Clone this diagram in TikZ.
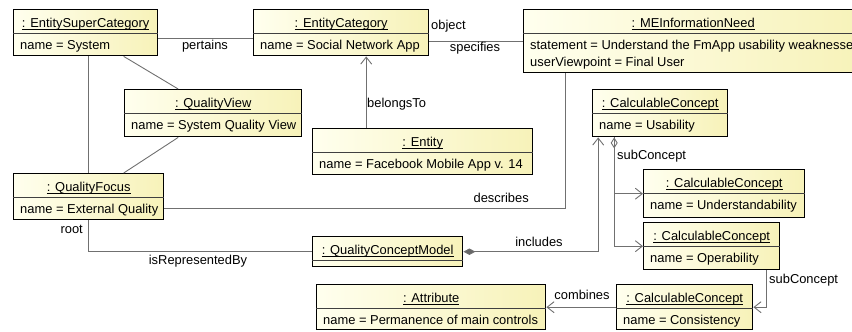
\documentclass[tikz,border=0pt]{standalone}
\usepackage{fontspec}
\setmainfont{Liberation Sans}
\usepackage{xcolor}
\usepackage{tikz}
\usetikzlibrary{arrows.meta}
\definecolor{objleft}{RGB}{255,255,238}
\definecolor{objright}{RGB}{247,242,185}
\definecolor{linkgray}{RGB}{112,112,112}
\tikzstyle{link} = [draw=linkgray, line width=0.9bp]
\tikzstyle{nav}  = [link, -{Straight Barb[length=7bp,width=11bp]}]
\newcommand{\fsz}{\fontsize{12.95}{17}\selectfont}
\newcommand{\objname}[1]{\setbox0=\hbox{#1}\rlap{\rule[-2.1bp]{\wd0}{0.75bp}}\box0}
\newcommand{\objbox}[6]{%
  \node[obj, minimum width=#3bp, minimum height=#4bp, anchor=north west] (#1) at (#2) {};
  \node[objtitle] (#1-title) at ([yshift=-9bp]#1.north) {\objname{#5}};
  \draw[objsep] ([yshift=-24bp]#1.north west) -- ([yshift=-24bp]#1.north east);
  \node[objattr] (#1-attr) at ([yshift=-30.8bp]#1.north west) {#6};
}

\begin{document}
\begin{tikzpicture}[x=1bp, y=-1bp,
    obj/.style={draw=black, line width=1.4bp, left color=objleft, right color=objright, inner sep=0pt},
    objtitle/.style={font=\fsz, inner sep=0pt, anchor=north},
    objattr/.style={font=\fsz, align=left, inner xsep=7bp, inner ysep=0pt, anchor=north west},
    objsep/.style={draw=black!75, line width=0.8bp},
    lbl/.style={font=\fsz, inner sep=0pt},
  ]
  \useasboundingbox (0,0) rectangle (852,331);
  \clip (0,0) rectangle (852,331);

  \objbox{esc}{13,9}{144}{46}{: EntitySuperCategory}{name = System}
  \objbox{ecat}{253,9}{175}{46}{: EntityCategory}{name = Social Network App}
  \objbox{need}{523,9}{339}{63}{: MEInformationNeed}{statement = Understand the FmApp usability weaknesses\\userViewpoint = Final User}
  \objbox{qview}{124,89}{177}{47}{: QualityView}{name = System Quality View}
  \objbox{entity}{312,128}{220}{46}{: Entity}{name = Facebook Mobile App v. 14}
  \objbox{qfocus}{13,173}{150}{46}{: QualityFocus}{name = External Quality}
  \objbox{qcm}{312,236}{150}{30}{: QualityConceptModel}{}
  \objbox{usab}{592,89}{135}{47}{: CalculableConcept}{name = Usability}
  \objbox{under}{643,169}{161}{48}{: CalculableConcept}{name = Understandability}
  \objbox{oper}{643,222}{136}{47}{: CalculableConcept}{name = Operability}
  \objbox{cons}{616,284}{136}{45}{: CalculableConcept}{name = Consistency}
  \objbox{attr}{316,284}{229}{45}{: Attribute}{name = Permanence of main controls}

  \draw[link] ([yshift=-6bp]esc.east) coordinate (p1) -- (p1 -| ecat.west);
  \draw[link] (need.west -| ecat.east) -- (need.west);
  \draw[link] ([xshift=38bp]esc.south) -- ([xshift=-35bp]qview.north);
  \draw[link] (esc.south -| qfocus.north) -- (qfocus.north);
  \draw[link] ([xshift=-35bp]qview.south) -- ([xshift=35bp]qfocus.north);
  \coordinate (bt) at ([xshift=25bp]ecat.south);
  \draw[nav] (bt |- entity.north) -- (bt);
  \draw[link] ([yshift=-12bp]qfocus.east) -| ([xshift=-128bp]need.south);
  \draw[link] (qfocus.south) |- (qcm.west);
  \draw[link, {Diamond[length=12bp,width=6.5bp,fill=black!60]}-{Straight Barb[length=7bp,width=11bp]}] (qcm.east) -| ([xshift=-62bp]usab.south);
  \draw[link, {Diamond[open,length=11bp,width=7bp]}-{Straight Barb[length=7bp,width=11bp]}] ([xshift=-46bp]usab.south) |- (under.west);
  \draw[nav] ([xshift=-46bp]usab.south) |- (oper.west);
  \draw[nav] ([xshift=55bp]oper.south) |- (cons.east);
  \draw[nav] (cons.west) -- (attr.east);

  \node[lbl] (l-pertains) at (205,46.5) {pertains};
  \node[lbl, anchor=west] (l-object) at (431,26.5) {object};
  \node[lbl] (l-specifies) at (475,48.5) {specifies};
  \node[lbl, anchor=west] (l-belongs) at (367,104.5) {belongsTo};
  \node[lbl, anchor=east] (l-describes) at (529,197.5) {describes};
  \node[lbl, anchor=east] (l-root) at (83,229.5) {root};
  \node[lbl] (l-repr) at (198,261) {isRepresentedBy};
  \node[lbl] (l-includes) at (539,242) {includes};
  \node[lbl, anchor=west] (l-sub1) at (617,156.5) {subConcept};
  \node[lbl, anchor=west] (l-sub2) at (769,280) {subConcept};
  \node[lbl] (l-combines) at (582,294.5) {combines};
\end{tikzpicture}
\end{document}
